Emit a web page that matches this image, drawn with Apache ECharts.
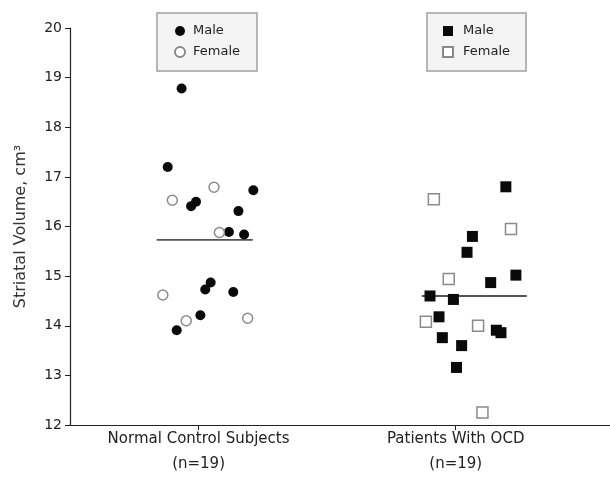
<!DOCTYPE html>
<html>
<head>
<meta charset="utf-8">
<script src="https://cdn.jsdelivr.net/npm/echarts@6/dist/echarts.min.js"></script>
<style>
html,body{margin:0;padding:0;background:#fff;}
#chart{width:610px;height:482px;}
</style>
</head>
<body>
<div id="chart"></div>
<script>
// Group labels and their x positions on the value axis
var groupLabels = ['Normal Control Subjects\n(n=19)', 'Patients With OCD\n(n=19)'];
var groupPos = [0.5, 1.5];
var yTicks = [12, 13, 14, 15, 16, 17, 18, 19, 20];

// Normal control subjects (x = jittered position, y = volume)
var ncMaleX = [0.434, 0.380, 0.713, 0.490, 0.471, 0.655, 0.618, 0.677, 0.547, 0.526, 0.635, 0.507, 0.415];
var ncMaleY = [18.78, 17.20, 16.73, 16.50, 16.41, 16.31, 15.89, 15.84, 14.87, 14.73, 14.68, 14.21, 13.91];
var ncFemaleX = [0.560, 0.398, 0.581, 0.361, 0.452, 0.691];
var ncFemaleY = [16.79, 16.53, 15.88, 14.62, 14.10, 14.15];
var ncMean = 15.73;
var ncMeanSpan = [0.337, 0.711];

// Patients with OCD
var ocdMaleX = [1.695, 1.565, 1.544, 1.636, 1.734, 1.400, 1.491, 1.435, 1.658, 1.676, 1.448, 1.523, 1.503];
var ocdMaleY = [16.80, 15.80, 15.48, 14.87, 15.02, 14.60, 14.53, 14.18, 13.91, 13.86, 13.76, 13.60, 13.16];
var ocdFemaleX = [1.415, 1.715, 1.473, 1.384, 1.587, 1.604];
var ocdFemaleY = [16.55, 15.95, 14.94, 14.08, 14.00, 12.25];
var ocdMean = 14.60;
var ocdMeanSpan = [1.368, 1.776];

function pairs(xs, ys){ return xs.map(function(x,i){ return [x, ys[i]]; }); }

var font = "'DejaVu Sans','Liberation Sans',sans-serif";
var chart = echarts.init(document.getElementById('chart'), null, {renderer:'canvas'});

var openStyle = {color:'#ffffff', borderColor:'#8a8a8a', borderWidth:1.5, opacity:1};
var filledStyle = {color:'#0a0a0a', opacity:1};
var legendBase = {
  orient:'vertical', top:13, itemWidth:10, itemHeight:10, itemGap:7,
  backgroundColor:'#f4f4f4', borderColor:'#a0a0a0', borderWidth:1.5,
  textStyle:{fontFamily:font, fontSize:13, color:'#222', lineHeight:14, padding:[0,0,0,3]},
  formatter:function(n){ return n.trim(); },
  selectedMode:false
};

var option = {
  backgroundColor:'#ffffff',
  animation:false,
  grid:{left:70, right:0, top:28, bottom:57, containLabel:false},
  legend:[
    Object.assign({}, legendBase, {left:157, padding:[11,17,12,17], data:['Male','Female']}),
    Object.assign({}, legendBase, {left:427, padding:[11,16,12,15], data:['Male ','Female '],
      textStyle:Object.assign({}, legendBase.textStyle, {padding:[0,0,0,5]})})
  ],
  xAxis:{
    type:'value', min:0, max:2.1,
    splitLine:{show:false},
    axisLine:{show:true, lineStyle:{color:'#222', width:1.2}},
    axisTick:{show:true, customValues:groupPos, length:5, lineStyle:{color:'#222'}},
    axisLabel:{
      customValues:groupPos, margin:2,
      formatter:function(v){ var i = groupPos.indexOf(v); return i>=0 ? groupLabels[i] : ''; },
      fontFamily:font, fontSize:15, color:'#222', lineHeight:25
    }
  },
  yAxis:{
    type:'value', min:12, max:20, interval:1,
    name:'Striatal Volume, cm³', nameLocation:'middle', nameGap:41,
    nameTextStyle:{fontFamily:font, fontSize:16, color:'#333'},
    splitLine:{show:false},
    axisLine:{show:true, lineStyle:{color:'#222', width:1.2}},
    axisTick:{show:true, length:5, inside:false, lineStyle:{color:'#222'}},
    axisLabel:{
      margin:8, fontFamily:font, fontSize:14, color:'#222',
      formatter:function(v){ return yTicks.indexOf(v)>=0 ? String(v) : ''; }
    }
  },
  series:[
    {name:'Male', type:'scatter', symbol:'circle', symbolSize:10, itemStyle:filledStyle, data:pairs(ncMaleX, ncMaleY), z:3},
    {name:'Female', type:'scatter', symbol:'circle', symbolSize:10, itemStyle:openStyle, data:pairs(ncFemaleX, ncFemaleY), z:3},
    {name:'Male ', type:'scatter', symbol:'rect', symbolSize:11, itemStyle:filledStyle, data:pairs(ocdMaleX, ocdMaleY), z:3},
    {name:'Female ', type:'scatter', symbol:'rect', symbolSize:11, itemStyle:openStyle, data:pairs(ocdFemaleX, ocdFemaleY), z:3},
    {name:'ncMean', type:'line', symbol:'none', lineStyle:{color:'#555', width:1.8}, data:[[ncMeanSpan[0], ncMean],[ncMeanSpan[1], ncMean]], z:2, silent:true},
    {name:'ocdMean', type:'line', symbol:'none', lineStyle:{color:'#555', width:1.8}, data:[[ocdMeanSpan[0], ocdMean],[ocdMeanSpan[1], ocdMean]], z:2, silent:true}
  ]
};
chart.setOption(option);
</script>
</body>
</html>
